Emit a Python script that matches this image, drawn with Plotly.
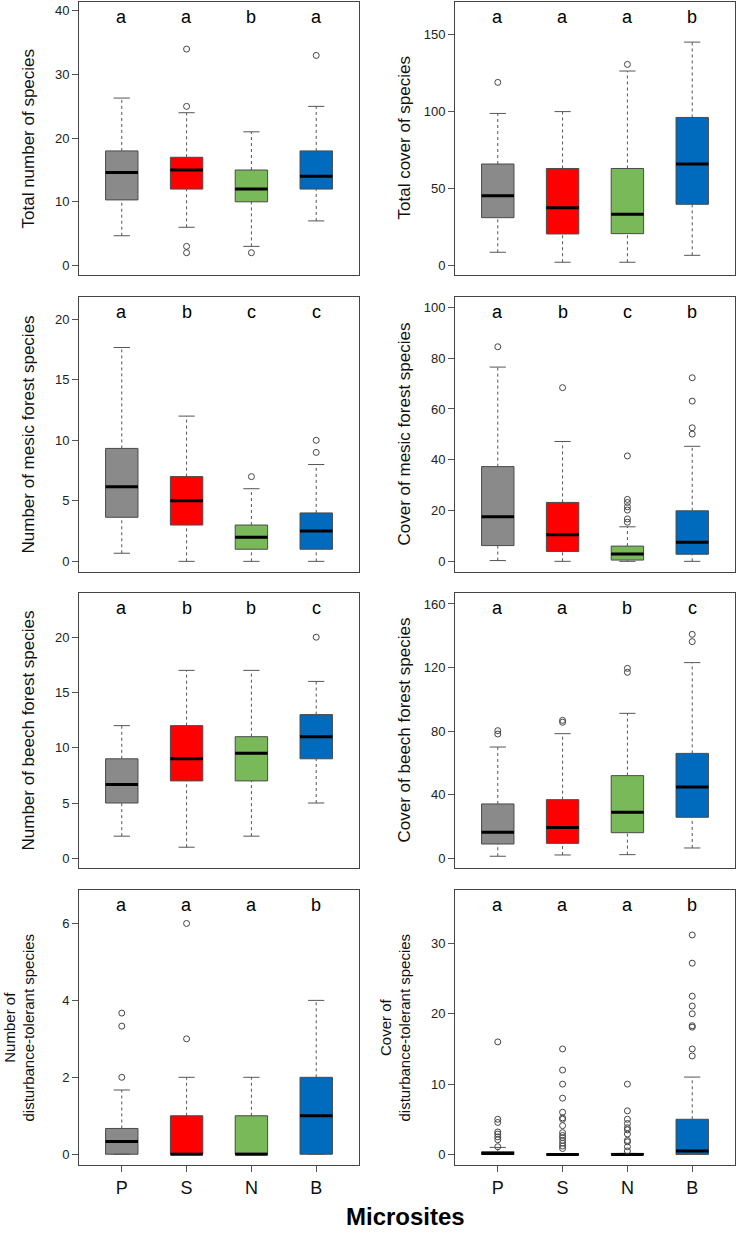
import plotly.graph_objects as go

groups = ['P', 'S', 'N', 'B']
positions = [1, 2, 3, 4]
box_colors = ['#8a8a8a', '#ff0000', '#7ab959', '#006bbd']

# each row (P, S, N, B): lower whisker, Q1, median, Q3, upper whisker
tot_num = [[4.67, 10.3, 14.6, 18.0, 26.3],
           [6, 12, 15, 17, 24],
           [3, 10, 12, 15, 21],
           [7, 12, 14, 18, 25]]
tot_num_out = [[], [34, 25, 3, 2], [2], [33]]
tot_num_letters = ['a', 'a', 'b', 'a']

tot_cov = [[8.5, 31.0, 45.3, 65.9, 98.8],
           [2, 20.4, 37.5, 63, 100],
           [2, 20.6, 33.2, 63, 126.4],
           [6.5, 39.7, 65.9, 96.2, 145.2]]
tot_cov_out = [[119], [], [130.7], []]
tot_cov_letters = ['a', 'a', 'a', 'b']

mes_num = [[0.67, 3.64, 6.17, 9.33, 17.67],
           [0, 3, 5, 7, 12],
           [0, 1, 2, 3, 6],
           [0, 1, 2.5, 4, 8]]
mes_num_out = [[], [], [7], [10, 9]]
mes_num_letters = ['a', 'b', 'c', 'c']

mes_cov = [[0.3, 6.2, 17.6, 37.3, 76.5],
           [0, 3.9, 10.5, 23.2, 47.2],
           [0, 0.5, 2.9, 6.0, 13.6],
           [0, 2.8, 7.5, 19.9, 45.3]]
mes_cov_out = [[84.5], [68.4], [41.5, 24.4, 23.2, 21.5, 20.2, 16.7, 15.4],
               [72.3, 63.1, 52.6, 50.1]]
mes_cov_letters = ['a', 'b', 'c', 'b']

bee_num = [[2, 5, 6.67, 9, 12],
           [1, 7, 9, 12, 17],
           [2, 7, 9.5, 11, 17],
           [5, 9, 11, 13, 16]]
bee_num_out = [[], [], [], [20]]
bee_num_letters = ['a', 'b', 'b', 'c']

bee_cov = [[1.3, 9.0, 16.4, 34.2, 70],
           [2.1, 9.4, 19.3, 36.9, 78.4],
           [2.3, 16.1, 28.9, 52, 91.2],
           [6.5, 25.8, 44.9, 66, 123.1]]
bee_cov_out = [[80.3, 78.2], [86.8, 85.6], [119.5, 117], [140.9, 136.3]]
bee_cov_letters = ['a', 'a', 'b', 'c']

dis_num = [[0, 0, 0.33, 0.67, 1.67],
           [0, 0, 0, 1, 2],
           [0, 0, 0, 1, 2],
           [0, 0, 1, 2, 4]]
dis_num_out = [[3.67, 3.33, 2], [6, 3], [], []]
dis_num_letters = ['a', 'a', 'a', 'b']

dis_cov = [[0, 0, 0.15, 0.4, 1.0],
           [0, 0, 0, 0, 0],
           [0, 0, 0, 0.15, 0.15],
           [0, 0, 0.5, 5, 11]]
dis_cov_out = [[16, 5.0, 4.55, 3.2, 2.9, 2.5, 2.1, 1.1],
               [15, 12, 10, 8, 6, 5.2, 5.0, 4.1, 3.1, 2.7, 2.4, 2.0, 1.6, 1.2, 0.85],
               [10, 6.2, 5, 4.4, 3.8, 3.5, 2.9, 2.0, 1.8, 1.1, 0.5],
               [31.2, 27.2, 22.5, 21.1, 20, 18.3, 18.1, 15, 14]]
dis_cov_letters = ['a', 'a', 'a', 'b']

panels = [
    (tot_num, tot_num_out, tot_num_letters, 'Total number of species', [-1.5, 41.4], 10),
    (tot_cov, tot_cov_out, tot_cov_letters, 'Total cover of species', [-6.3, 171.3], 50),
    (mes_num, mes_num_out, mes_num_letters, 'Number of mesic forest species', [-0.88, 21.84], 5),
    (mes_cov, mes_cov_out, mes_cov_letters, 'Cover of mesic forest species', [-4.2, 104.1], 20),
    (bee_num, bee_num_out, bee_num_letters, 'Number of beech forest species', [-0.88, 24.0], 5),
    (bee_cov, bee_cov_out, bee_cov_letters, 'Cover of beech forest species', [-6.1, 166.9], 40),
    (dis_num, dis_num_out, dis_num_letters, 'Number of<br>disturbance-tolerant species', [-0.28, 6.87], 2),
    (dis_cov, dis_cov_out, dis_cov_letters, 'Cover of<br>disturbance-tolerant species', [-1.5, 37.6], 10),
]

W, H = 736, 1233


def px_x(p):
    return p / W


def px_y(p):
    return 1 - p / H


x_domains = [[px_x(79), px_x(359)], [px_x(455), px_x(735)]]
y_domains = [[px_y(275), px_y(2)], [px_y(572), px_y(297)],
             [px_y(868), px_y(593)], [px_y(1165), px_y(890)]]
title_x = [[28, 404], [28, 404], [28, 404], [19, 395]]

FONT = 'Liberation Sans, Arial, sans-serif'
box_w = 0.5
cap_w = 0.25

fig = go.Figure()
annotations = []

for i, (stats, outs, letters, title, yrange, dtick) in enumerate(panels):
    row, col = divmod(i, 2)
    n = '' if i == 0 else str(i + 1)
    xref, yref = 'x' + n, 'y' + n

    # dashed whiskers
    wx, wy = [], []
    for p, s in zip(positions, stats):
        wx += [p, p, None, p, p, None]
        wy += [s[0], s[1], None, s[3], s[4], None]
    fig.add_trace(go.Scatter(x=wx, y=wy, mode='lines', xaxis=xref, yaxis=yref,
                             line=dict(color='#555555', width=1, dash='3px,3px'),
                             showlegend=False, hoverinfo='skip'))

    # whisker caps
    cx, cy = [], []
    for p, s in zip(positions, stats):
        for v in (s[0], s[4]):
            cx += [p - cap_w / 2, p + cap_w / 2, None]
            cy += [v, v, None]
    fig.add_trace(go.Scatter(x=cx, y=cy, mode='lines', xaxis=xref, yaxis=yref,
                             line=dict(color='#555555', width=1),
                             showlegend=False, hoverinfo='skip'))

    # boxes
    for p, s, c, g in zip(positions, stats, box_colors, groups):
        fig.add_trace(go.Box(x=[p], q1=[s[1]], median=[s[2]], q3=[s[3]],
                             lowerfence=[s[1]], upperfence=[s[3]],
                             width=box_w, whiskerwidth=0, fillcolor=c,
                             line=dict(color='#4a4a4a', width=1),
                             name=g, xaxis=xref, yaxis=yref,
                             showlegend=False, hoverinfo='skip'))

    # thick medians
    mx, my = [], []
    for p, s in zip(positions, stats):
        mx += [p - box_w / 2, p + box_w / 2, None]
        my += [s[2], s[2], None]
    fig.add_trace(go.Scatter(x=mx, y=my, mode='lines', xaxis=xref, yaxis=yref,
                             line=dict(color='black', width=3),
                             showlegend=False, hoverinfo='skip'))

    # outliers
    ox, oy = [], []
    for p, o in zip(positions, outs):
        ox += [p] * len(o)
        oy += o
    fig.add_trace(go.Scatter(x=ox, y=oy, mode='markers', xaxis=xref, yaxis=yref,
                             marker=dict(symbol='circle-open', size=6, color='#444444',
                                         line=dict(width=1)),
                             showlegend=False, hoverinfo='skip'))

    bottom = row == 3
    fig.update_layout(**{
        'xaxis' + n: dict(domain=x_domains[col], anchor=yref, range=[0.34, 4.66],
                          showline=True, mirror=True, linecolor='#444444', linewidth=1,
                          showgrid=False, zeroline=False,
                          tickvals=positions, ticktext=groups,
                          ticks='outside' if bottom else '', ticklen=6,
                          tickcolor='#555555', showticklabels=bottom,
                          tickfont=dict(family=FONT, size=18, color='#111111')),
        'yaxis' + n: dict(domain=y_domains[row], anchor=xref, range=yrange,
                          showline=True, mirror=True, linecolor='#444444', linewidth=1,
                          showgrid=False, zeroline=False, dtick=dtick, tick0=0,
                          ticks='outside', ticklen=6, tickcolor='#555555',
                          tickfont=dict(family=FONT, size=13, color='#222222')),
    })

    # significance letters
    for p, letter in zip(positions, letters):
        annotations.append(dict(x=p, y=y_domains[row][1], xref=xref, yref='paper',
                                text=letter, showarrow=False, yanchor='middle',
                                yshift=-15,
                                font=dict(family=FONT, size=18, color='black')))

    # y-axis title
    annotations.append(dict(x=px_x(title_x[row][col]), y=sum(y_domains[row]) / 2,
                            xref='paper', yref='paper', text=title, textangle=-90,
                            showarrow=False, xanchor='center', yanchor='middle',
                            font=dict(family=FONT, size=15 if bottom else 17,
                                      color='#111111')))

annotations.append(dict(x=px_x(406), y=px_y(1232), xref='paper', yref='paper',
                        text='<b>Microsites</b>', showarrow=False,
                        xanchor='center', yanchor='bottom',
                        font=dict(family=FONT, size=24, color='black')))

fig.update_layout(width=W, height=H, margin=dict(l=0, r=0, t=0, b=0),
                  plot_bgcolor='white', paper_bgcolor='white',
                  annotations=annotations, showlegend=False)

# drop the default page margin so the figure sits at the window's corner
fig.write_html('out.html', config={'displayModeBar': False},
               post_script="document.body.style.margin='0';")
